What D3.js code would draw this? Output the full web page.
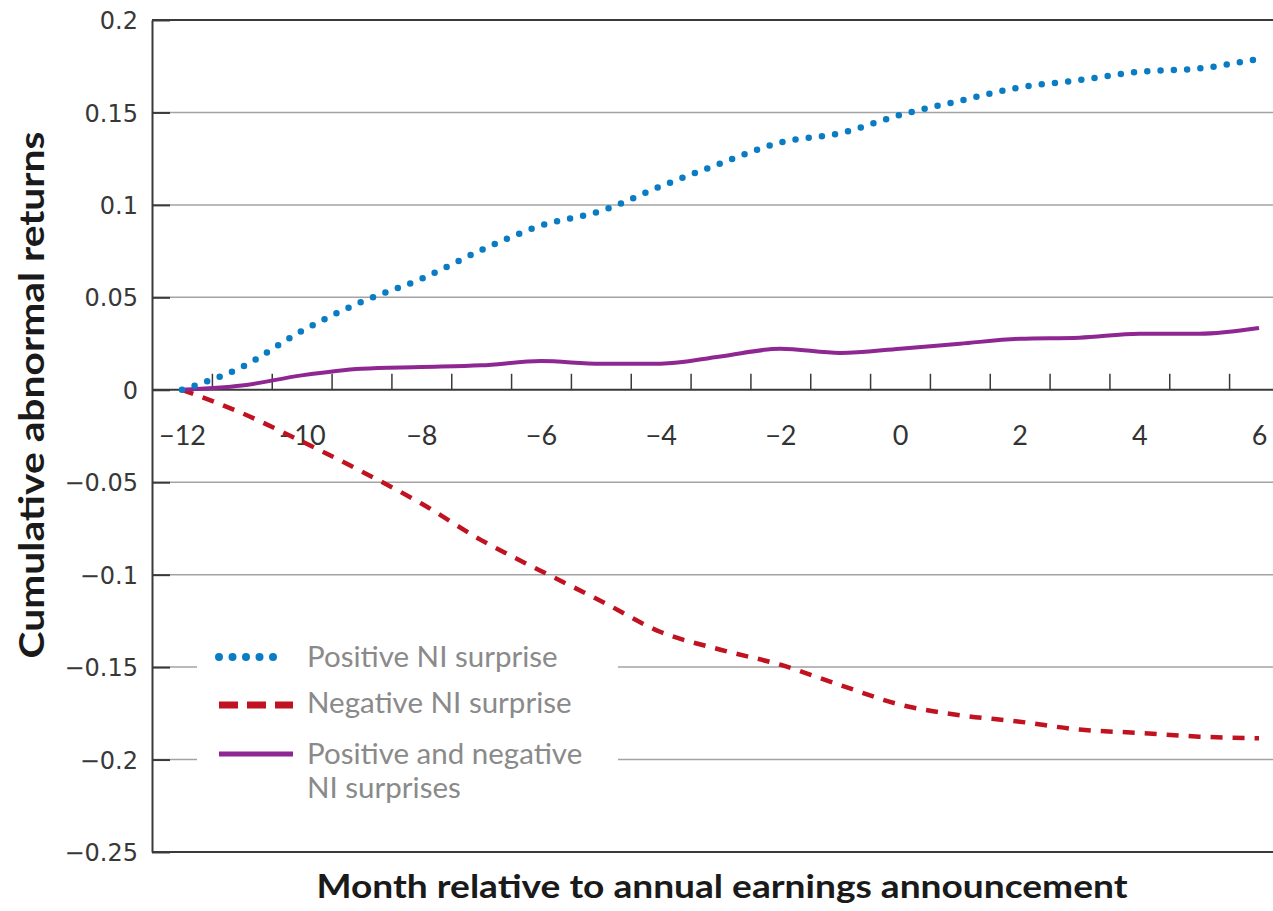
<!DOCTYPE html>
<html>
<head>
<meta charset="utf-8">
<script src="https://cdn.jsdelivr.net/npm/d3@7"></script>
<style>
  body { margin: 0; background: #fff; }
  svg { display: block; }
  .ylab text { font-family: 'DejaVu Sans', sans-serif; font-size: 24px; fill: #383838; }
  .xlab text { font-family: Lato, sans-serif; font-size: 27px; fill: #333; }
</style>
</head>
<body>
<div id="chart"></div>
<script>
// months relative to the announcement
var months = [-12, -11, -10, -9, -8, -7, -6, -5, -4, -3, -2, -1, 0, 1, 2, 3, 4, 5, 6];

// cumulative abnormal returns
var positiveSurprise = [0, 0.0123, 0.0318, 0.0475, 0.060, 0.0755, 0.0888, 0.0967, 0.110, 0.1224,
  0.1338, 0.1388, 0.1486, 0.1563, 0.1635, 0.1675, 0.172, 0.1738, 0.179];
var negativeSurprise = [0, -0.0126, -0.0279, -0.0441, -0.0615, -0.0813, -0.098, -0.1142, -0.131, -0.1406,
  -0.1487, -0.1597, -0.1703, -0.176, -0.1795, -0.1838, -0.1856, -0.1876, -0.1885];
var bothSurprises = [0, 0.0023, 0.0078, 0.0114, 0.0123, 0.0132, 0.0155, 0.0141, 0.0141, 0.018,
  0.0222, 0.0199, 0.0222, 0.0249, 0.0276, 0.0282, 0.0303, 0.0303, 0.0334];

var yTicks = [0.2, 0.15, 0.1, 0.05, 0, -0.05, -0.1, -0.15, -0.2, -0.25];
var yTickLabels = ['0.2', '0.15', '0.1', '0.05', '0', '\u22120.05', '\u22120.1', '\u22120.15', '\u22120.2', '\u22120.25'];
var xTicks = [-12, -10, -8, -6, -4, -2, 0, 2, 4, 6];
var minorTicks = [-11.5, -10.5, -9.5, -8.5, -7.5, -6.5, -5.5, -4.5, -3.5, -2.5, -1.5, -0.5, 0.5, 1.5, 2.5, 3.5, 4.5, 5.5];

var seriesNames = ['Positive NI surprise', 'Negative NI surprise', 'Positive and negative|NI surprises'];

var width = 1273, height = 911;
var plotLeft = 152, plotRight = 1273, plotTop = 20, plotBottom = 852;

var svg = d3.select('#chart').append('svg')
  .attr('width', width)
  .attr('height', height);

var x = d3.scaleLinear().domain([-12, 6]).range([182, 1259]);
var y = d3.scaleLinear().domain([-0.25, 0.2]).range([plotBottom, plotTop]);

// gridlines
svg.append('g').selectAll('line')
  .data(yTicks.filter(function(d) { return d !== 0 && d !== 0.2 && d !== -0.25; }))
  .enter().append('line')
  .attr('x1', plotLeft).attr('x2', plotRight)
  .attr('y1', function(d) { return y(d); })
  .attr('y2', function(d) { return y(d); })
  .attr('stroke', '#a3a3a3')
  .attr('stroke-width', 1.5);

// frame top / bottom
svg.append('line').attr('x1', plotLeft).attr('x2', plotRight).attr('y1', plotTop).attr('y2', plotTop)
  .attr('stroke', '#3a3a3a').attr('stroke-width', 2);
svg.append('line').attr('x1', plotLeft).attr('x2', plotRight).attr('y1', plotBottom).attr('y2', plotBottom)
  .attr('stroke', '#3a3a3a').attr('stroke-width', 2);

// y axis, ticks point inwards
var yAxis = d3.axisLeft(y)
  .tickValues(yTicks)
  .tickFormat(function(d, i) { return yTickLabels[i]; })
  .tickSizeInner(-18)
  .tickSizeOuter(0)
  .tickPadding(14);

var yg = svg.append('g')
  .attr('class', 'ylab')
  .attr('transform', 'translate(' + plotLeft + ',0)')
  .call(yAxis);
yg.select('.domain').attr('stroke', '#3a3a3a').attr('stroke-width', 2);
yg.selectAll('.tick line').attr('stroke', '#3a3a3a').attr('stroke-width', 2);
yg.selectAll('.tick text').attr('dy', '0.36em');

// zero line with month ticks
var zg = svg.append('g')
  .attr('transform', 'translate(0,' + y(0) + ')')
  .call(d3.axisTop(x).tickValues(minorTicks).tickSize(16).tickFormat(''));
zg.select('.domain').remove();
zg.selectAll('.tick line').attr('stroke', '#3a3a3a').attr('stroke-width', 1.5);
svg.append('line').attr('x1', plotLeft).attr('x2', plotRight).attr('y1', y(0)).attr('y2', y(0))
  .attr('stroke', '#3a3a3a').attr('stroke-width', 2);

var xg = svg.append('g')
  .attr('class', 'xlab')
  .attr('transform', 'translate(0,' + y(0) + ')')
  .call(d3.axisBottom(x).tickValues(xTicks).tickSize(0).tickPadding(36)
    .tickFormat(function(d) { return d < 0 ? '\u2212' + Math.abs(d) : d; }));
xg.select('.domain').remove();

// lines
var line = d3.line()
  .x(function(d) { return x(d[0]); })
  .y(function(d) { return y(d[1]); })
  .curve(d3.curveMonotoneX);

function pairs(values) {
  return months.map(function(m, i) { return [m, values[i]]; });
}

var styles = [
  { color: '#0a7cc4', width: 6.5, dash: '0 13.3', cap: 'round', legendDash: '0 13.5', legendWidth: 8 },
  { color: '#c01220', width: 4.5, dash: '12 10', cap: 'butt', legendDash: '19 9', legendWidth: 7 },
  { color: '#8e2792', width: 4, dash: null, cap: 'butt', legendDash: null, legendWidth: 5 }
];

[negativeSurprise, bothSurprises, positiveSurprise].forEach(function(vals) {
  var s = vals === positiveSurprise ? styles[0] : vals === negativeSurprise ? styles[1] : styles[2];
  svg.append('path')
    .datum(pairs(vals))
    .attr('d', line)
    .attr('fill', 'none')
    .attr('stroke', s.color)
    .attr('stroke-width', s.width)
    .attr('stroke-linecap', s.cap)
    .attr('stroke-dasharray', s.dash);
});

// legend
var legend = svg.append('g');
legend.append('rect')
  .attr('x', 197).attr('y', 634)
  .attr('width', 421).attr('height', 172)
  .attr('fill', '#fff');

var legendRows = [657, 705, 754];
var textRows = [[667], [713], [764, 798]];

seriesNames.forEach(function(name, i) {
  var s = styles[i];
  legend.append('line')
    .attr('x1', 219).attr('x2', i === 0 ? 282 : 293)
    .attr('y1', legendRows[i]).attr('y2', legendRows[i])
    .attr('stroke', s.color)
    .attr('stroke-width', s.legendWidth)
    .attr('stroke-linecap', s.cap)
    .attr('stroke-dasharray', s.legendDash);
  name.split('|').forEach(function(part, j) {
    legend.append('text')
      .attr('x', 307)
      .attr('y', textRows[i][j])
      .attr('font-family', 'Lato, sans-serif')
      .attr('font-size', 29.5)
      .attr('fill', '#8a8a8a')
      .text(part);
  });
});

// axis titles
svg.append('text')
  .attr('x', 722).attr('y', 898)
  .attr('text-anchor', 'middle')
  .attr('font-family', 'Lato, sans-serif')
  .attr('font-weight', 'bold')
  .attr('font-size', 33)
  .attr('fill', '#1a1a1a')
  .attr('textLength', 811)
  .attr('lengthAdjust', 'spacingAndGlyphs')
  .text('Month relative to annual earnings announcement');

svg.append('text')
  .attr('transform', 'translate(44,395) rotate(-90)')
  .attr('text-anchor', 'middle')
  .attr('font-family', 'Lato, sans-serif')
  .attr('font-weight', 'bold')
  .attr('font-size', 35)
  .attr('fill', '#1a1a1a')
  .attr('textLength', 527)
  .attr('lengthAdjust', 'spacingAndGlyphs')
  .text('Cumulative abnormal returns');
</script>
</body>
</html>
